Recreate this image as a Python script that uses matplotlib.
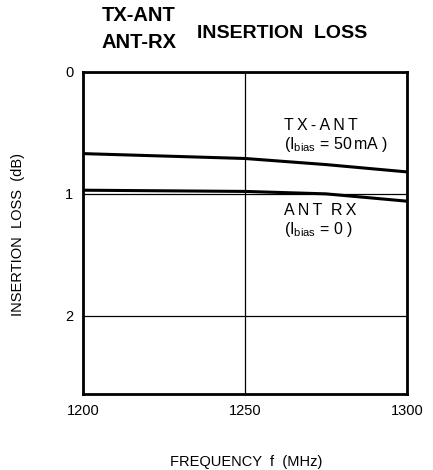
import matplotlib
matplotlib.use("Agg")
import matplotlib.pyplot as plt

freq = [1200, 1225, 1250, 1275, 1300]
tx_ant = [0.67, 0.69, 0.71, 0.76, 0.82]
ant_rx = [0.97, 0.975, 0.98, 1.0, 1.06]
xticks = [1200, 1250, 1300]
yticks = [0, 1, 2]

plt.rcParams['font.family'] = ['Liberation Sans', 'DejaVu Sans']
plt.rcParams['mathtext.fontset'] = 'custom'
plt.rcParams['mathtext.rm'] = 'Liberation Sans'
plt.rcParams['mathtext.it'] = 'Liberation Sans'

fig = plt.figure(figsize=(4.33, 4.70), dpi=100)
ax = fig.add_axes([0.192, 0.162, 0.748, 0.685])

ax.plot(freq, tx_ant, color='black', lw=2.2)
ax.plot(freq, ant_rx, color='black', lw=2.2)

ax.set_xlim(1200, 1300)
ax.set_ylim(2.64, 0)
ax.set_xticks(xticks)
ax.set_yticks(yticks)
ax.tick_params(length=0, labelsize=10.5, pad=7)
ax.grid(True, color='black', lw=0.9)
for s in ax.spines.values():
    s.set_linewidth(2)

ts = "\u2009"
ax.text(1262, 0.48, ts.join("TX-ANT"), fontsize=11.5, va='baseline')
ax.text(1262, 0.635, r"(I$_{\rm bias}$ = 50$\,$mA )", fontsize=11.5, va='baseline')
ax.text(1262, 1.175, ts.join("ANT") + "  " + ts.join("RX"), fontsize=11.5, va='baseline')
ax.text(1262, 1.33, r"(I$_{\rm bias}$ = 0 )", fontsize=11.5, va='baseline')

fig.text(246 / 433, 1 - 462 / 470, "FREQUENCY  f  (MHz)", fontsize=10.5,
         ha='center', va='center')
fig.text(18 / 433, 1 - 235 / 470, "INSERTION  LOSS  (dB)", fontsize=10.5,
         ha='center', va='center', rotation=90)

fig.text(102 / 433, 1 - 15.5 / 470, "TX-ANT", fontsize=14.5, fontweight='bold',
         ha='left', va='center')
fig.text(102 / 433, 1 - 42.5 / 470, "ANT-RX", fontsize=14.5, fontweight='bold',
         ha='left', va='center')
fig.text(197 / 433, 1 - 33 / 470, "INSERTION  LOSS", fontsize=14, fontweight='bold',
         ha='left', va='center')

fig.savefig("out.png", dpi=100)
